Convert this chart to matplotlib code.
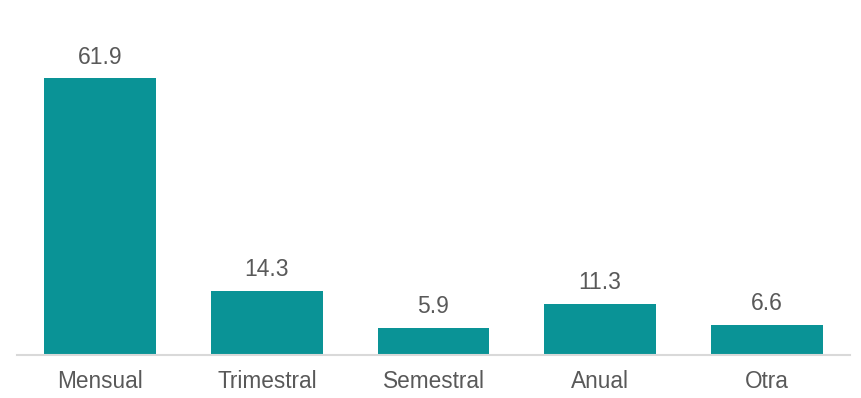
import matplotlib.pyplot as plt
import numpy as np

# Datos
categorias = ["Mensual", "Trimestral", "Semestral", "Anual", "Otra"]
valores = [61.9, 14.3, 5.9, 11.3, 6.6]

plt.rcParams['font.family'] = ['Liberation Sans', 'DejaVu Sans']

fig = plt.figure(figsize=(8.62, 3.98), dpi=100)
ax = fig.add_axes([17 / 862, 1 - 354.5 / 398, 833 / 862, 354.5 / 398])

x = np.arange(len(categorias))
barras = ax.bar(x, valores, width=0.67, color='#0A9396')

for b, v in zip(barras, valores):
    ax.annotate(f"{v:.1f}", (b.get_x() + b.get_width() / 2, v),
                xytext=(0, 7), textcoords='offset points',
                ha='center', va='bottom', fontsize=16.5, color='#595959')

ax.set_xlim(-0.5, 4.5)
ax.set_ylim(0, 79.5)
ax.set_xticks(x)
ax.set_xticklabels(categorias, fontsize=16.3, color='#595959')
ax.set_yticks([])
ax.tick_params(axis='x', length=0, pad=11)

for lado in ['top', 'right', 'left']:
    ax.spines[lado].set_visible(False)
ax.spines['bottom'].set_color('#D9D9D9')
ax.spines['bottom'].set_linewidth(1.5)

fig.savefig("out.png", dpi=100)
